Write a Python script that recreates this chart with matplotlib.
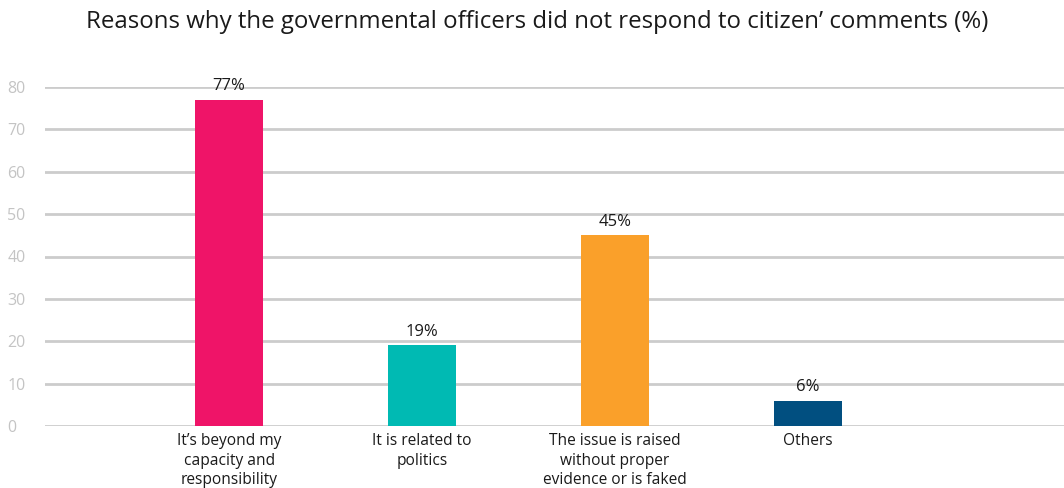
import matplotlib.pyplot as plt
import numpy as np

plt.rcParams['font.family'] = ['Open Sans', 'DejaVu Sans']

categories = ['It\u2019s beyond my\ncapacity and\nresponsibility',
              'It is related to\npolitics',
              'The issue is raised\nwithout proper\nevidence or is faked',
              'Others']
values = [77, 19, 45, 6]
colors = ['#EF1468', '#00BAB3', '#FAA02A', '#014F80']
yticks = [0, 10, 20, 30, 40, 50, 60, 70, 80]

fig = plt.figure(figsize=(10.64, 4.88), dpi=100)
ax = fig.add_axes([45 / 1064, 62 / 488, 1019 / 1064, 339 / 488])

x = np.arange(len(categories))
bars = ax.bar(x, values, width=0.353, color=colors, zorder=3)

# value labels sit just above each bar
for b, v in zip(bars, values):
    ax.text(b.get_x() + b.get_width() / 2, v + 1.3, f'{v}%',
            ha='center', va='bottom', fontsize=12, color='#1a1a1a')

ax.set_xlim(-0.955, 4.33)
ax.set_ylim(0, 80)
ax.set_yticks(yticks)
ax.set_xticks(x)
ax.set_xticklabels(categories, fontsize=11.2, color='#1a1a1a', linespacing=1.3)
ax.tick_params(axis='y', length=0, pad=27, labelsize=11.5, labelcolor='#c4c4c4')
ax.tick_params(axis='x', length=0, pad=5)
for t in ax.get_yticklabels():
    t.set_horizontalalignment('left')

ax.grid(axis='y', color='#cccccc', linewidth=2, zorder=0)
for s in ax.spines.values():
    s.set_visible(False)

fig.text(537 / 1064, 1 - 22 / 488, 'Reasons why the governmental officers did not respond to citizen\u2019 comments (%)',
         ha='center', va='center', fontsize=17.3, color='#1a1a1a')

fig.savefig('out.png', dpi=100)
